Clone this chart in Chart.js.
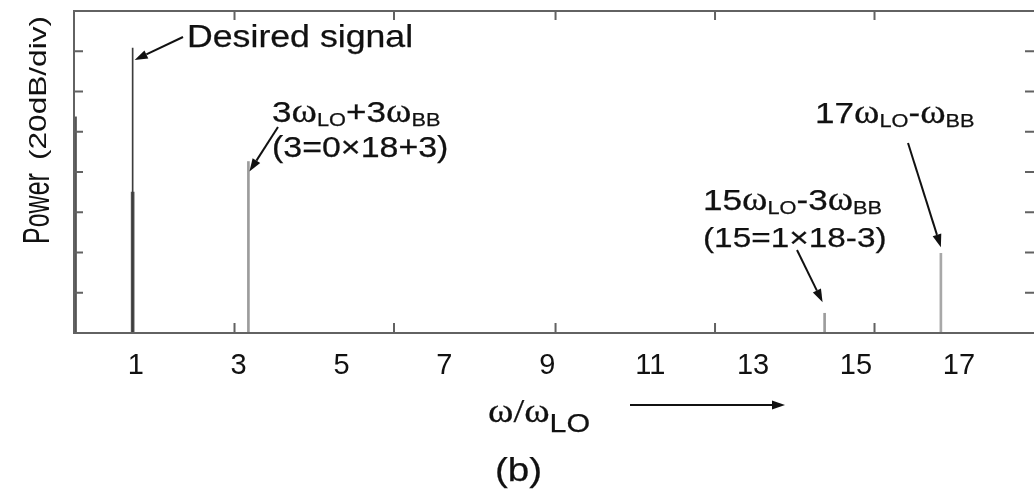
<!DOCTYPE html>
<html lang="en">
<head>
<meta charset="UTF-8" />
<title>Spectrum (b)</title>
<style>
  html, body { margin: 0; padding: 0; background: #fff; }
  canvas { display: block; }
</style>
</head>
<body>
<canvas id="spectrum" width="1034" height="489"></canvas>

<script src="https://cdn.jsdelivr.net/npm/chart.js@4"></script>
<script>
// spectral lines: x in units of w/wLO, y in divisions (20 dB each)
const toneNames = ['DC', 'Desired signal', 'Desired (lower)', '3wLO+3wBB', '15wLO-3wBB', '17wLO-wBB'];
const toneFreqs = [-0.18, 0.94, 0.94, 3.19, 14.39, 16.65];
const toneLevels = [5.37, 7.08, 3.5, 4.26, 0.49, 1.98];

const xTickLabels = [1, 3, 5, 7, 9, 11, 13, 15, 17];
const xTickMarks = [2.92, 6.02, 9.16, 12.26, 15.36];
const yTickMarks = [1, 2, 3, 4, 5, 6, 7];

const toneColors = ['#555555', '#3c3c3c', '#555555', '#9c9c9c', '#9c9c9c', '#a8a8a8'];
const toneWidths = [3, 1, 3, 2, 2, 2];

const SX = 1.17; // source figure is stretched sideways a bit
const SANS = '"Liberation Sans", Arial, sans-serif';
const SERIF = '"Liberation Serif", "Times New Roman", serif';

function richText(ctx, x, y, parts) {
    ctx.save();
    ctx.translate(x, y);
    ctx.scale(SX, 1);
    ctx.textAlign = 'left';
    ctx.textBaseline = 'alphabetic';
    ctx.fillStyle = '#111';
    ctx.strokeStyle = '#111';
    ctx.lineWidth = 0.25;
    let cx = 0;
    for (const p of parts) {
        ctx.font = p.size + 'px ' + (p.serif ? SERIF : SANS);
        ctx.fillText(p.t, cx, p.dy || 0);
        ctx.strokeText(p.t, cx, p.dy || 0);
        cx += ctx.measureText(p.t).width;
    }
    ctx.restore();
}

// e.g. mix('3', '+3') -> 3wLO+3wBB
function mix(m, rest, s) {
    return [
        { t: m, size: s },
        { t: 'ω', size: s * 1.1, serif: true },
        { t: 'LO', size: s * 0.62, dy: 4 },
        { t: rest, size: s },
        { t: 'ω', size: s * 1.1, serif: true },
        { t: 'BB', size: s * 0.62, dy: 4 }
    ];
}

function arrow(ctx, x1, y1, x2, y2) {
    const a = Math.atan2(y2 - y1, x2 - x1);
    const hl = 13, hw = 4.5;
    ctx.save();
    ctx.strokeStyle = '#111';
    ctx.fillStyle = '#111';
    ctx.lineWidth = 2;
    ctx.beginPath();
    ctx.moveTo(x1, y1);
    ctx.lineTo(x2 - hl * Math.cos(a), y2 - hl * Math.sin(a));
    ctx.stroke();
    ctx.translate(x2, y2);
    ctx.rotate(a);
    ctx.beginPath();
    ctx.moveTo(0, 0);
    ctx.lineTo(-hl, -hw);
    ctx.lineTo(-hl, hw);
    ctx.closePath();
    ctx.fill();
    ctx.restore();
}

const framePlugin = {
    id: 'frame',
    afterDatasetsDraw(chart) {
        const { ctx, chartArea: a, scales: { x, y } } = chart;
        ctx.save();
        ctx.strokeStyle = '#626262';
        ctx.lineWidth = 2;
        // box (right side sits just past the canvas edge)
        ctx.beginPath();
        ctx.moveTo(a.right, a.top); ctx.lineTo(a.left, a.top);
        ctx.lineTo(a.left, a.bottom); ctx.lineTo(a.right, a.bottom);
        // inward ticks
        for (const v of yTickMarks) {
            const py = y.getPixelForValue(v);
            ctx.moveTo(a.left, py); ctx.lineTo(a.left + 9, py);
            ctx.moveTo(a.right, py); ctx.lineTo(a.right - 9, py);
        }
        for (const v of xTickMarks) {
            const px = x.getPixelForValue(v);
            ctx.moveTo(px, a.bottom); ctx.lineTo(px, a.bottom - 10);
            ctx.moveTo(px, a.top); ctx.lineTo(px, a.top + 9);
        }
        ctx.stroke();
        ctx.restore();
    },
    afterDraw(chart) {
        const { ctx, scales: { x, y } } = chart;
        const tip = (i, dx, dy) => [x.getPixelForValue(toneFreqs[i]) + dx, y.getPixelForValue(toneLevels[i]) + dy];

        // annotations
        richText(ctx, 187, 47, [{ t: 'Desired signal', size: 30.5 }]);
        arrow(ctx, 183, 37, ...tip(1, 2, 12));

        richText(ctx, 272, 122, mix('3', '+3', 30));
        richText(ctx, 272, 157, [{ t: '(3=0×18+3)', size: 29 }]);
        arrow(ctx, 278, 127, ...tip(3, 1, 10));

        richText(ctx, 703, 210, mix('15', '-3', 30));
        richText(ctx, 703, 247, [{ t: '(15=1×18-3)', size: 28.5 }]);
        arrow(ctx, 797, 250, ...tip(4, -2, -11));

        richText(ctx, 815, 123, mix('17', '-', 30));
        arrow(ctx, 908, 143, ...tip(5, 0, -6));

        // axis titles
        richText(ctx, 488, 422, [
            { t: 'ω/ω', size: 33, serif: true },
            { t: 'LO', size: 26, dy: 10 }
        ]);
        arrow(ctx, 630, 405, 785, 405);
        richText(ctx, 495, 481, [{ t: '(b)', size: 33 }]);

        // y title: "Power" big, "(20dB/div)" small and spread out
        ctx.save();
        ctx.translate(49, 244);
        ctx.rotate(-Math.PI / 2);
        ctx.fillStyle = '#111';
        ctx.textBaseline = 'alphabetic';
        ctx.save();
        ctx.scale(1, 1.45);
        ctx.font = '25px ' + SANS;
        ctx.fillText('Power', 0, 0);
        ctx.restore();
        ctx.translate(84, -3);
        ctx.scale(1.58, 1.2);
        ctx.font = '20px ' + SANS;
        ctx.fillText('(20dB/div)', 0, 0);
        ctx.restore();
    }
};

new Chart(document.getElementById('spectrum'), {
    type: 'bar',
    data: {
        datasets: toneFreqs.map((f, i) => ({
            label: toneNames[i],
            data: [{ x: f, y: toneLevels[i] }],
            backgroundColor: toneColors[i],
            barThickness: toneWidths[i],
            grouped: false,
            borderWidth: 0
        }))
    },
    options: {
        responsive: false,
        animation: false,
        layout: { padding: { left: 74, top: 11, right: -3, bottom: 114 } },
        plugins: { legend: { display: false }, tooltip: { enabled: false } },
        scales: {
            x: {
                type: 'linear',
                min: -0.2,
                max: 18.46,
                offset: false,
                afterBuildTicks: s => { s.ticks = xTickLabels.map(v => ({ value: v })); },
                afterFit: s => { s.height = 42; },
                grid: { display: false },
                border: { display: false },
                ticks: {
                    color: '#111',
                    font: { family: SANS, size: 29 },
                    padding: 8,
                    autoSkip: false,
                    maxRotation: 0
                }
            },
            y: { min: 0, max: 8, display: false }
        }
    },
    plugins: [framePlugin]
});
</script>
</body>
</html>
